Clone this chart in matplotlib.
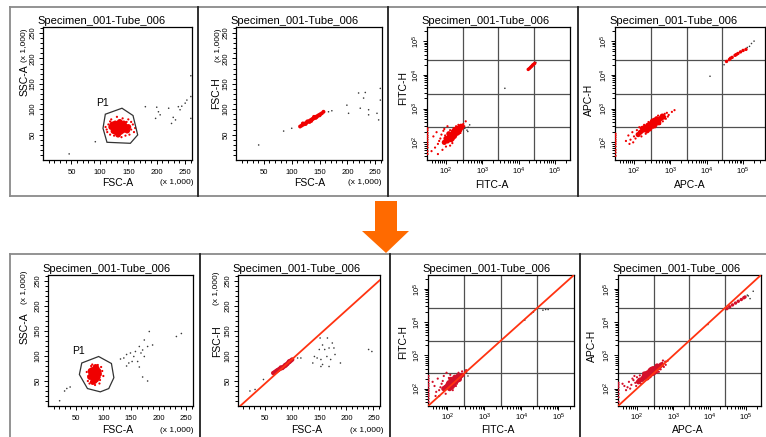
import numpy as np
import matplotlib
matplotlib.use("Agg")
import matplotlib.pyplot as plt
from matplotlib.lines import Line2D
from matplotlib.patches import Polygon
from matplotlib.ticker import FixedLocator

plt.rcParams['font.family'] = ['Liberation Sans', 'DejaVu Sans']
plt.rcParams['mathtext.default'] = 'regular'

W, H = 766, 437
TITLE = "Specimen_001-Tube_006"

# ---------------- data ----------------
lin_ticks = [50, 100, 150, 200, 250]
log_ticks = [1e2, 1e3, 1e4, 1e5]
log_labels = ['$10^2$', '$10^3$', '$10^4$', '$10^5$']
quad_gates = [290, 2800, 27100]

# top row, FSC-A vs SSC-A (x 1,000)
a1_gate_x = [109.6, 138.9, 158.3, 166.5, 153.6, 112.5, 105.5]
a1_gate_y = [90.2, 102, 87.6, 49.4, 32.9, 34.9, 62.5]
a1_red_x = [125, 130, 135, 140, 128, 133, 138, 145, 120, 130, 142, 136, 127, 148, 132, 124, 139, 131, 144, 122, 135, 150, 128, 137, 134]
a1_red_y = [60, 65, 62, 58, 55, 70, 68, 63, 65, 58, 72, 55, 72, 58, 50, 57, 64, 61, 67, 70, 75, 65, 63, 59, 66]
a1_halo_x = [112, 115, 118, 155, 158, 150, 140, 120, 125, 145, 160, 113, 152, 130, 147, 110, 118, 155, 138, 162]
a1_halo_y = [60, 70, 50, 60, 70, 80, 82, 80, 48, 48, 55, 55, 50, 85, 75, 65, 76, 75, 45, 63]
a1_dots_x = [180, 200, 198, 206, 221, 229, 226, 238, 244, 250, 253, 260, 260, 260, 92, 46, 203, 233, 241]
a1_dots_y = [105, 104, 82, 89, 102, 84, 72, 105, 106, 112, 118, 125, 166, 82, 36, 12, 95, 79, 99]

# top row, FSC-A vs FSC-H
a2_red_x = [115, 118, 121, 124, 127, 130, 133, 136, 139, 142, 145, 148, 151, 154, 157, 125, 135, 145, 128, 138, 120, 132, 143, 150, 140]
a2_red_y = [66, 68, 70, 72, 74, 76, 78, 80, 82, 84, 86, 88, 90, 92, 95, 71, 77, 85, 76, 81, 72, 75, 83, 88, 85]
a2_dots_x = [100, 85.5, 40.7, 166, 172, 199, 202, 220, 229, 223, 238, 238, 253, 259, 259, 256, 232]
a2_dots_y = [62.5, 57, 29.6, 95, 97, 108, 92, 132, 122, 102, 99, 89, 92, 118, 141, 79, 133]

# top row, FITC-A vs FITC-H
a3_red_x = [120, 140, 160, 180, 200, 220, 250, 150, 130, 170, 190, 210, 240, 110, 100, 160, 180, 230, 270, 140, 200, 260, 120, 90, 175]
a3_red_y = [140, 160, 180, 200, 220, 240, 260, 130, 170, 150, 230, 190, 230, 110, 130, 210, 170, 270, 280, 120, 250, 300, 180, 100, 240]
a3_halo_x = [60, 50, 70, 80, 45, 55, 90, 110, 65, 75, 130, 150, 100, 300, 280, 320, 350, 220, 190, 85, 40, 95, 60, 130, 250, 31, 31, 31, 31, 31, 31, 31, 31, 31, 31, 31]
a3_halo_y = [90, 70, 130, 60, 150, 200, 250, 300, 110, 170, 80, 95, 75, 350, 320, 300, 420, 330, 300, 220, 55, 160, 45, 230, 190, 45, 55, 70, 85, 100, 120, 140, 160, 190, 230, 260]
a3_streak_x = [18500, 20000, 21500, 23000, 24500, 26000, 28000]
a3_streak_y = [14500, 15500, 16800, 18000, 19500, 20500, 22000]
a3_dots_x = [30000, 4200, 330, 380, 410, 450, 400]
a3_dots_y = [23500, 4000, 260, 230, 280, 330, 210]

# top row, APC-A vs APC-H
a4_red_x = [150, 180, 220, 260, 300, 350, 400, 450, 500, 280, 330, 380, 240, 200, 420, 550, 320, 270, 360, 480, 600, 230, 170, 130, 650]
a4_red_y = [200, 230, 260, 290, 330, 360, 400, 440, 480, 350, 300, 330, 320, 280, 500, 520, 420, 250, 450, 380, 600, 220, 260, 170, 560]
a4_halo_x = [60, 80, 100, 70, 90, 110, 120, 140, 700, 800, 900, 1100, 750, 620, 520, 160, 190, 250, 210, 95, 1300, 850, 460, 380, 75, 31, 31, 31, 31, 31, 31, 31, 31, 31, 31]
a4_halo_y = [110, 120, 150, 160, 200, 130, 230, 280, 700, 750, 650, 800, 500, 420, 350, 150, 330, 400, 180, 100, 900, 580, 620, 280, 90, 40, 50, 60, 75, 90, 105, 120, 140, 160, 180]
a4_streak_x = [35000, 42000, 45000, 50000, 60000, 65000, 72000, 85000, 100000, 120000]
a4_streak_y = [25000, 28500, 31000, 33000, 38000, 40000, 43000, 48000, 53000, 57000]
a4_dots_x = [150000, 170000, 130000, 12300, 30000, 200000]
a4_dots_y = [70000, 85000, 65000, 9100, 20000, 100000]

# bottom row, FSC-A vs SSC-A
b1_gate_x = [61, 91.5, 114.6, 119, 109.8, 94.5, 71.3, 56.7]
b1_gate_y = [86, 99, 85, 56.6, 34.9, 28.3, 34.9, 63]
b1_red_x = [80, 84, 88, 82, 86, 78, 90, 84, 80, 88, 76, 92, 85, 83, 87, 79, 91, 81, 86, 89, 77, 83, 85, 82, 87]
b1_red_y = [60, 65, 62, 55, 70, 66, 58, 50, 72, 75, 58, 65, 60, 68, 53, 62, 70, 48, 78, 66, 70, 57, 64, 63, 60]
b1_halo_x = [73, 95, 98, 72, 94, 90, 80, 96, 75, 93, 100, 70, 85, 78]
b1_halo_y = [60, 62, 70, 50, 52, 82, 83, 78, 45, 45, 60, 68, 42, 80]
b1_dots_x = [137, 142, 149, 155, 168, 171, 180, 183, 174, 165, 146, 142, 152, 162, 165, 171, 180, 189, 232, 241, 30, 34, 40, 21, 131, 158, 174]
b1_dots_y = [96, 103, 106, 99, 106, 112, 119, 149, 132, 119, 86, 80, 89, 89, 78, 58, 50, 122, 139, 145, 30, 35, 38, 10.5, 94, 109, 99]

# bottom row, FSC-A vs FSC-H
b2_diag_x = [4, 262]
b2_diag_y = [0, 252]
b2_red_x = [65, 68, 71, 74, 77, 80, 83, 86, 89, 92, 95, 98, 100, 75, 85, 79, 88, 72, 82, 91, 94, 70, 78, 96, 87]
b2_red_y = [66, 68, 70, 72, 74, 76, 78, 80, 83, 86, 88, 91, 93, 73, 79, 77, 81, 71, 76, 84, 89, 69, 75, 90, 82]
b2_dots_x = [151.5, 156, 150, 160, 168, 177, 179, 141, 146, 153, 164, 171, 138, 156, 168, 189, 241, 247, 22, 31.5, 47, 110, 116, 165, 174, 153]
b2_dots_y = [136, 122, 113, 113, 116, 116, 103, 99, 96, 93, 99, 93, 86, 83, 79, 86, 113, 109, 30, 33, 53, 96, 96, 136, 126, 79]

# bottom row, FITC-A vs FITC-H
diag_log = [30, 262144]
b3_red_x = [100, 120, 140, 160, 180, 200, 130, 150, 170, 110, 190, 220, 90, 125, 160, 145, 210, 240, 80, 175, 135, 105, 195, 155, 115]
b3_red_y = [120, 140, 160, 180, 200, 210, 170, 140, 160, 150, 180, 230, 110, 190, 220, 130, 190, 250, 100, 210, 115, 135, 240, 200, 100]
b3_halo_x = [60, 50, 70, 55, 45, 80, 95, 60, 75, 120, 140, 170, 230, 260, 300, 280, 200, 65, 90, 250, 40, 110, 320, 180, 48, 31, 31, 31, 31, 31, 31, 31, 31, 31, 31, 31]
b3_halo_y = [90, 80, 140, 200, 120, 240, 300, 60, 170, 260, 90, 120, 200, 280, 320, 250, 300, 110, 70, 330, 160, 210, 360, 140, 60, 40, 50, 60, 70, 85, 100, 120, 140, 170, 200, 240]
b3_dots_x = [12300, 18600, 21000, 38000, 45000, 52500, 330, 360]
b3_dots_y = [11500, 18200, 20000, 22900, 24000, 24000, 300, 240]

# bottom row, APC-A vs APC-H
b4_red_x = [120, 150, 180, 210, 240, 270, 300, 340, 380, 200, 260, 160, 230, 290, 420, 320, 190, 140, 250, 360, 110, 470, 220, 280, 170]
b4_red_y = [180, 210, 240, 270, 300, 330, 360, 390, 420, 300, 280, 250, 350, 300, 470, 330, 210, 190, 380, 480, 160, 520, 240, 400, 280]
b4_halo_x = [45, 55, 40, 60, 70, 80, 90, 100, 65, 75, 120, 130, 500, 600, 700, 550, 450, 400, 350, 150, 95, 85, 620, 520, 50, 31, 31, 31, 31, 31, 31, 31]
b4_halo_y = [120, 110, 140, 160, 130, 180, 150, 220, 100, 200, 250, 140, 600, 650, 690, 450, 380, 320, 300, 300, 120, 240, 520, 700, 90, 40, 55, 70, 90, 110, 130, 150]
b4_streak_x = [30000, 36000, 43000, 52000, 62000, 75000, 88000, 95000]
b4_streak_y = [25500, 29000, 33000, 37500, 42500, 48000, 54000, 57000]
b4_dots_x = [117000, 131000, 110000, 160000, 9000]
b4_dots_y = [61500, 51000, 65000, 85000, 8500]

# ---------------- layout helpers ----------------
fig = plt.figure(figsize=(W / 100, H / 100), dpi=100)
fig.patch.set_facecolor('white')

RED_TOP = '#f00000'
RED_BOT = '#d4102a'
DOT = '#3a3a3a'


def add_ax(l, t, r, b):
    ax = fig.add_axes([l / W, 1 - b / H, (r - l) / W, (b - t) / H])
    ax.box = (l, t, r, b)
    for s in ax.spines.values():
        s.set_linewidth(0.9)
        s.set_color('black')
    ax.tick_params(which='both', direction='out', width=0.7, labelsize=5.5,
                   top=False, right=False)
    ax.tick_params(which='major', length=3.2)
    ax.tick_params(which='minor', length=1.9)
    ax.tick_params(axis='x', pad=3)
    ax.tick_params(axis='y', pad=1.5, labelrotation=90)
    return ax


def frac(ax, xpx, ypx):
    l, t, r, b = ax.box
    return (xpx - l) / (r - l), (b - ypx) / (b - t)


def labels(ax, xl, xl_pos, yl, yl_pos):
    l, t, r, b = ax.box
    ax.set_xlabel(xl, fontsize=7.5)
    ax.set_ylabel(yl, fontsize=7.5)
    ax.xaxis.set_label_coords(*frac(ax, *xl_pos))
    ax.yaxis.set_label_coords(*frac(ax, *yl_pos))
    ax.xaxis.label.set_va('center')
    ax.yaxis.label.set_va('center')
    ax.yaxis.label.set_ha('center')
    ax.text(-6 / (r - l), 1.01, TITLE, transform=ax.transAxes, ha='left',
            va='bottom', fontsize=8)


def setup_linear(ax, xk_pos, yk_pos):
    ax.set_xlim(0, 262)
    ax.set_ylim(0, 262)
    ax.set_xticks(lin_ticks)
    ax.set_yticks(lin_ticks)
    ax.set_yticklabels([str(v) for v in lin_ticks], va='center')
    ax.xaxis.set_minor_locator(FixedLocator(range(10, 261, 10)))
    ax.yaxis.set_minor_locator(FixedLocator(range(10, 261, 10)))
    fx, fy = frac(ax, *xk_pos)
    ax.text(fx, fy, '(x 1,000)', transform=ax.transAxes, ha='center',
            va='center', fontsize=6)
    fx, fy = frac(ax, *yk_pos)
    ax.text(fx, fy, '(x 1,000)', transform=ax.transAxes, ha='center',
            va='center', fontsize=6, rotation=90)


def setup_log(ax, xmax=262144):
    ax.set_xscale('log')
    ax.set_yscale('log')
    ax.set_xlim(30, xmax)
    ax.set_ylim(30, 262144)
    ax.set_xticks(log_ticks)
    ax.set_xticklabels(log_labels)
    ax.set_yticks(log_ticks)
    ax.set_yticklabels(log_labels, va='center')
    ax.tick_params(axis='x', pad=1.2)
    ax.tick_params(axis='y', pad=0.6)
    minors = [k * 10.0 ** e for e in range(1, 6) for k in range(2, 10)]
    ax.xaxis.set_minor_locator(FixedLocator([m for m in minors if 30 < m < xmax]))
    ax.yaxis.set_minor_locator(FixedLocator([m for m in minors if 30 < m < 262144]))
    for g in quad_gates:
        ax.axvline(g, color='#505050', lw=0.9, zorder=1)
        ax.axhline(g, color='#505050', lw=0.9, zorder=1)


def dots(ax, x, y, color, s, z=3):
    ax.scatter(x, y, s=s, c=color, edgecolors='none', zorder=z)


# ---------------- top row ----------------
a1 = add_ax(43, 27, 192, 160)
setup_linear(a1, (177, 183), (25, 45))
labels(a1, 'FSC-A', (118, 183), 'SSC-A', (25, 80))
dots(a1, a1_dots_x, a1_dots_y, DOT, 1.3)
dots(a1, a1_halo_x, a1_halo_y, RED_TOP, 2.5)
dots(a1, a1_red_x, a1_red_y, RED_TOP, 18)
a1.add_patch(Polygon(list(zip(a1_gate_x, a1_gate_y)), closed=True, fill=False,
                     ec='#333333', lw=0.9, zorder=4))
a1.text(104, 112, 'P1', fontsize=7.5, ha='center', va='center')

a2 = add_ax(236, 27, 382, 160)
setup_linear(a2, (365, 183), (218, 45))
labels(a2, 'FSC-A', (310, 183), 'FSC-H', (216, 93))
dots(a2, a2_dots_x, a2_dots_y, DOT, 1.3)
dots(a2, a2_red_x, a2_red_y, RED_TOP, 8)

a3 = add_ax(427, 27, 570, 160)
setup_log(a3)
labels(a3, 'FITC-A', (492, 185), 'FITC-H', (403, 88))
dots(a3, a3_dots_x, a3_dots_y, DOT, 1.3)
dots(a3, a3_halo_x, a3_halo_y, RED_TOP, 2.5)
dots(a3, a3_red_x, a3_red_y, RED_TOP, 14)
dots(a3, a3_streak_x, a3_streak_y, RED_TOP, 6)

a4 = add_ax(615, 27, 765, 160)
setup_log(a4, xmax=400000)
labels(a4, 'APC-A', (690, 185), 'APC-H', (589, 100))
dots(a4, a4_dots_x, a4_dots_y, DOT, 1.3)
dots(a4, a4_halo_x, a4_halo_y, RED_TOP, 2.5)
dots(a4, a4_red_x, a4_red_y, RED_TOP, 14)
dots(a4, a4_streak_x, a4_streak_y, RED_TOP, 6)

# ---------------- bottom row ----------------
b1 = add_ax(48, 275, 193, 406)
setup_linear(b1, (177, 430), (25, 287))
labels(b1, 'FSC-A', (118, 430), 'SSC-A', (25, 328))
dots(b1, b1_dots_x, b1_dots_y, DOT, 1.3)
dots(b1, b1_halo_x, b1_halo_y, RED_TOP, 2.5)
dots(b1, b1_red_x, b1_red_y, RED_TOP, 18)
b1.add_patch(Polygon(list(zip(b1_gate_x, b1_gate_y)), closed=True, fill=False,
                     ec='#333333', lw=0.9, zorder=4))
b1.text(55.5, 109, 'P1', fontsize=7.5, ha='center', va='center')

b2 = add_ax(238, 275, 380, 406)
setup_linear(b2, (367, 430), (217, 288))
labels(b2, 'FSC-A', (307, 430), 'FSC-H', (217, 341))
dots(b2, b2_dots_x, b2_dots_y, DOT, 1.3)
dots(b2, b2_red_x, b2_red_y, RED_BOT, 10)
b2.plot(b2_diag_x, b2_diag_y, color='#ff3311', lw=1.3, zorder=5)

b3 = add_ax(428, 275, 574, 406)
setup_log(b3)
labels(b3, 'FITC-A', (498, 430), 'FITC-H', (403, 342))
dots(b3, b3_dots_x, b3_dots_y, DOT, 1.3)
dots(b3, b3_halo_x, b3_halo_y, RED_BOT, 2.5)
dots(b3, b3_red_x, b3_red_y, RED_BOT, 14)
b3.plot(diag_log, diag_log, color='#ff3311', lw=1.3, zorder=5)

b4 = add_ax(618, 275, 761, 406)
setup_log(b4)
labels(b4, 'APC-A', (688, 430), 'APC-H', (592, 346))
dots(b4, b4_dots_x, b4_dots_y, DOT, 1.3)
dots(b4, b4_halo_x, b4_halo_y, RED_BOT, 2.5)
dots(b4, b4_red_x, b4_red_y, RED_BOT, 14)
dots(b4, b4_streak_x, b4_streak_y, RED_BOT, 6)
b4.plot(diag_log, diag_log, color='#ff3311', lw=1.3, zorder=5)


# ---------------- frames and arrow ----------------
def fline(x1, y1, x2, y2, color, lw):
    fig.add_artist(Line2D([x1 / W, x2 / W], [1 - y1 / H, 1 - y2 / H],
                          transform=fig.transFigure, color=color, lw=lw))


GRAY = '#8a8a8a'
fline(10, 7, 766, 7, GRAY, 1.3)
fline(10, 7, 10, 196, GRAY, 1.3)
fline(10, 196, 766, 196, GRAY, 1.3)
for xd in [198, 388, 578]:
    fline(xd, 7, xd, 196, '#202020', 1.3)

fline(10, 254, 766, 254, GRAY, 1.3)
fline(10, 254, 10, 437, GRAY, 1.3)
for xd in [200, 390, 580]:
    fline(xd, 254, xd, 437, '#202020', 1.3)

arrow_px = [(375, 201), (397, 201), (397, 231), (409, 231), (386, 253),
            (362, 231), (375, 231)]
fig.add_artist(Polygon([(x / W, 1 - y / H) for x, y in arrow_px], closed=True,
                       transform=fig.transFigure, fc='#ff6a00', ec='none'))

fig.savefig('out.png', dpi=100, facecolor='white')
